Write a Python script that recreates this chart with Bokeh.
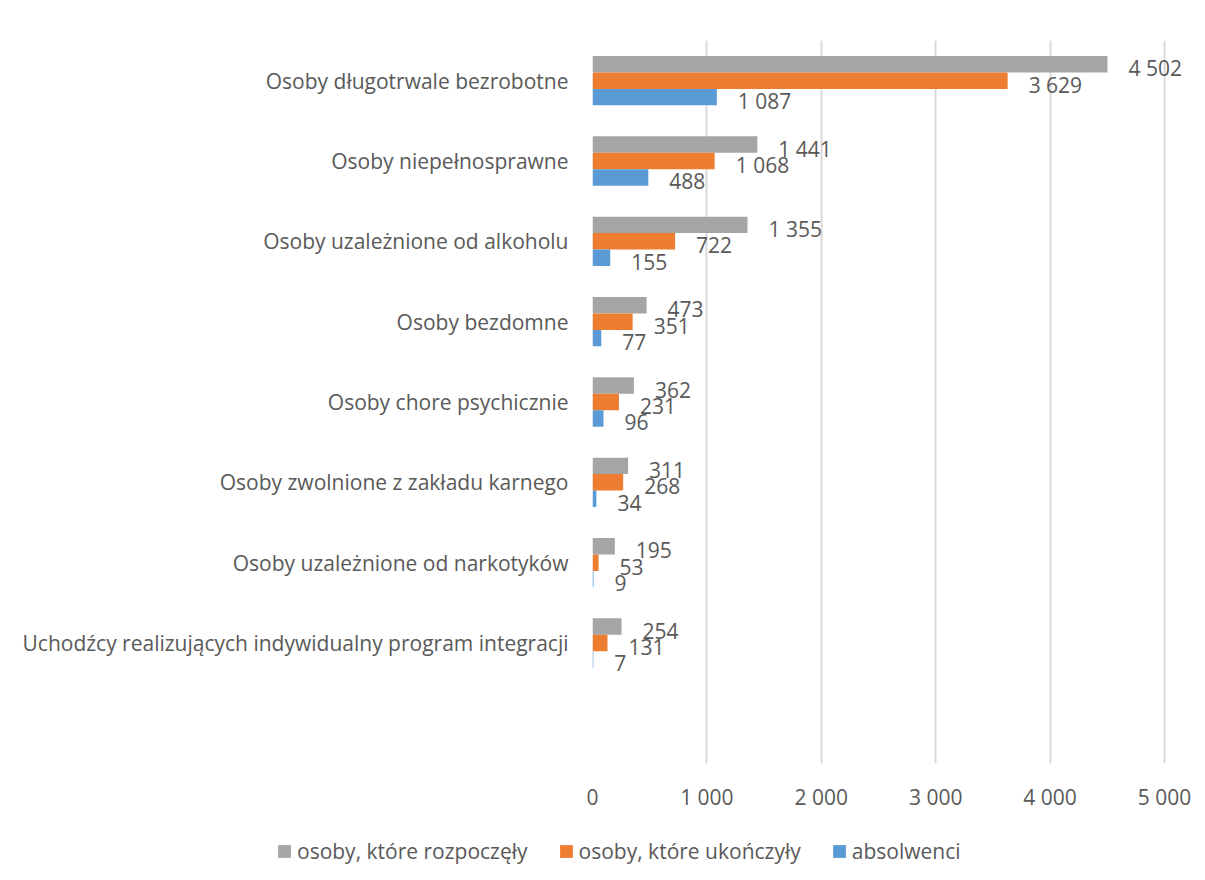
from bokeh.plotting import figure
from bokeh.models import ColumnDataSource, Range1d, FixedTicker, Legend, LegendItem
from bokeh.core.properties import value
from bokeh.embed import file_html
from bokeh.resources import INLINE

categories = [
    "Osoby długotrwale bezrobotne",
    "Osoby niepełnosprawne",
    "Osoby uzależnione od alkoholu",
    "Osoby bezdomne",
    "Osoby chore psychicznie",
    "Osoby zwolnione z zakładu karnego",
    "Osoby uzależnione od narkotyków",
    "Uchodźcy realizujących indywidualny program integracji",
]
series_names = ["osoby, które rozpoczęły", "osoby, które ukończyły", "absolwenci"]
rozpoczely = [4502, 1441, 1355, 473, 362, 311, 195, 254]
ukonczyly = [3629, 1068, 722, 351, 231, 268, 53, 131]
absolwenci = [1087, 488, 155, 77, 96, 34, 9, 7]
x_ticks = [0, 1000, 2000, 3000, 4000, 5000]

colors = ["#A5A5A5", "#ED7D31", "#5B9BD5"]
FONT = "Open Sans"
TXT = "#595959"
FS = "21px"

def fmt(v):
    return f"{v:,}".replace(",", " ")

p = figure(width=1205, height=830, output_backend="svg", toolbar_location=None,
           x_range=Range1d(0, 5315), y_range=Range1d(8.5, -0.5),
           min_border_left=592, min_border_right=5, min_border_top=40,
           min_border_bottom=67)
p.outline_line_color = None
p.background_fill_color = "white"
p.border_fill_color = "white"

offsets = [-0.205, 0.0, 0.205]
bar_h = 0.205
for vals, col, off in zip([rozpoczely, ukonczyly, absolwenci], colors, offsets):
    src = ColumnDataSource(dict(
        y=[i + off for i in range(len(categories))],
        v=vals,
        lab=[fmt(v) for v in vals],
    ))
    p.hbar(y="y", right="v", left=0, height=bar_h, source=src,
           fill_color=col, line_color=None)
    p.text(x="v", y="y", text="lab", source=src, x_offset=21, y_offset=4,
           text_align="left", text_baseline="middle",
           text_font=value(FONT), text_font_size=FS, text_color=TXT)

# axes
p.xaxis.ticker = FixedTicker(ticks=x_ticks)
p.xaxis.major_label_overrides = {t: fmt(t) for t in x_ticks}
p.xaxis.axis_line_color = None
p.xaxis.major_tick_line_color = None
p.xaxis.minor_tick_line_color = None
p.xaxis.major_label_standoff = 13
p.xaxis.major_label_text_font = FONT
p.xaxis.major_label_text_font_size = FS
p.xaxis.major_label_text_color = TXT

p.yaxis.ticker = FixedTicker(ticks=list(range(len(categories))))
p.yaxis.major_label_overrides = {i: c for i, c in enumerate(categories)}
p.yaxis.axis_line_color = None
p.yaxis.major_tick_line_color = None
p.yaxis.minor_tick_line_color = None
p.yaxis.major_label_standoff = 18
p.yaxis.major_label_text_font = FONT
p.yaxis.major_label_text_font_size = FS
p.yaxis.major_label_text_color = TXT

p.xgrid.ticker = FixedTicker(ticks=x_ticks)
p.xgrid.grid_line_color = "#D9D9D9"
p.xgrid.grid_line_width = 2
p.ygrid.grid_line_color = None

# legend strip below the chart (separate root, so it is not frame-aligned)
lg = figure(width=1205, height=50, output_backend="svg", toolbar_location=None,
            x_range=Range1d(0, 1), y_range=Range1d(0, 1),
            min_border_left=0, min_border_right=0, min_border_top=0, min_border_bottom=0)
lg.axis.visible = False
lg.grid.visible = False
lg.outline_line_color = None
lg.border_fill_color = "white"
items = []
for name, col in zip(series_names, colors):
    r = lg.hbar(y=[0.5], right=[0], left=0, height=0.1, fill_color=col, line_color=None)
    items.append(LegendItem(label=name, renderers=[r]))
legend = Legend(items=items, orientation="horizontal", location=(276, 15),
                label_text_font=FONT, label_text_font_size=FS, label_text_color=TXT,
                glyph_width=16, glyph_height=16, label_standoff=5, spacing=30,
                padding=0, margin=0, border_line_color=None, background_fill_alpha=0)
lg.add_layout(legend, "center")

open("out.html", "w").write(file_html([p, lg], INLINE))
